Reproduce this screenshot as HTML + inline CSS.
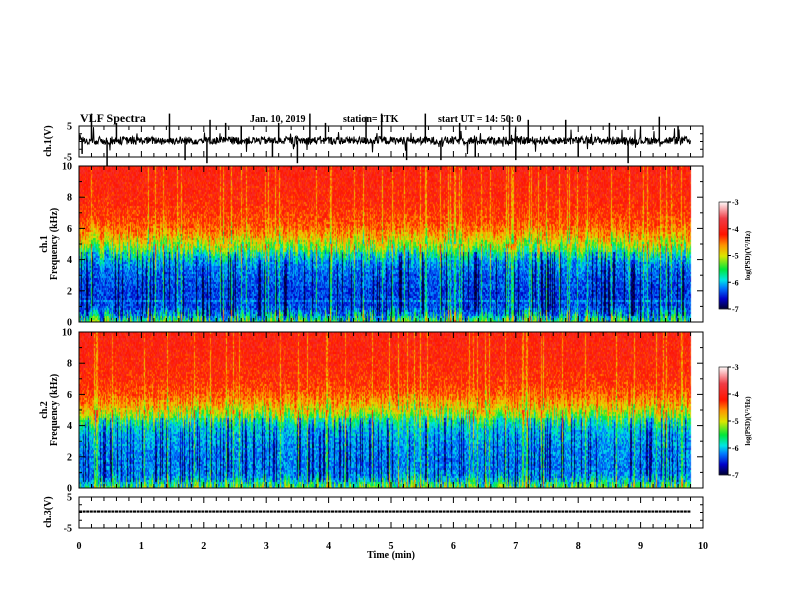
<!DOCTYPE html>
<html><head><meta charset="utf-8">
<style>
body{margin:0;background:#fff;}
#wrap{position:relative;width:792px;height:612px;overflow:hidden;background:#fff;font-family:"Liberation Serif",serif;font-weight:bold;}
canvas,svg{position:absolute;left:0;top:0;}
</style></head>
<body>
<div id="wrap">
<canvas id="spec" width="792" height="612"></canvas>
<svg id="svg" width="792" height="612"></svg>
</div>
<script>
// ---- data ----
const xTicks = [0,1,2,3,4,5,6,7,8,9,10];
const freqTicks = [0,2,4,6,8,10];
const volTicks = [5,-5];
const cbTicks = [-3,-4,-5,-6,-7];
const profFreq = [0,0.3,0.6,1.5,3,4,4.5,5,5.5,6,7,8,10];
const profPSD1 = [-5.4,-5.7,-6.3,-6.4,-6.3,-6.1,-5.6,-5.1,-4.75,-4.45,-4.25,-4.15,-4.05];
const profPSD2 = [-5.3,-5.6,-6.1,-6.2,-6.1,-5.9,-5.45,-4.95,-4.65,-4.4,-4.2,-4.15,-4.05];
const spikeTimes = [0.05,0.2,0.45,0.6,1.45,1.7,2.05,2.1,2.35,2.6,3.1,3.2,3.5,3.7,3.95,4.6,4.85,5.25,5.55,5.8,6.1,6.35,6.9,7.0,7.2,7.8,8.0,8.5,8.8,9.3,9.6];
const spikeAmps  = [-4,9,-8,6,9,-6,-7,7,6,5,-5,6,-7,9,6,8,9,-6,9,-6,6,-5,8,-6,7,7,-5,6,-7,8,5];
const dataEnd = 9.8;

// ---- layout ----
const X0=79,X1=703;
const P1={t:126,b:157}, S1={t:166,b:322}, S2={t:332,b:488}, P3={t:497,b:528};
const xs = t => X0 + (X1-X0)*t/10;
const fy = (p,f) => p.b - (p.b-p.t)*f/10;
const vy = (p,v) => (p.t+p.b)/2 - (p.b-p.t)/2*v/5;

let seed=12345;
function rnd(){seed=(seed*1103515245+12345)%2147483648;return seed/2147483648;}

function cmap(v){
  const stops=[[-7,[0,0,40]],[-6.6,[0,0,200]],[-6.2,[0,120,255]],[-5.9,[0,230,230]],[-5.5,[0,230,60]],[-5.0,[220,230,0]],[-4.6,[255,150,0]],[-4.2,[255,20,0]],[-3.6,[240,60,70]],[-3,[255,245,245]]];
  if(v<=-7) return stops[0][1];
  for(let i=1;i<stops.length;i++){ if(v<=stops[i][0]){const a=stops[i-1],b=stops[i];const k=(v-a[0])/(b[0]-a[0]);return a[1].map((c,j)=>Math.round(c+(b[1][j]-c)*k));}}
  return stops[stops.length-1][1];
}
function prof(arr,f){for(let i=1;i<profFreq.length;i++){if(f<=profFreq[i]){const k=(f-profFreq[i-1])/(profFreq[i]-profFreq[i-1]);return arr[i-1]+(arr[i]-arr[i-1])*k;}}return arr[arr.length-1];}

const ctx=document.getElementById('spec').getContext('2d');
function drawSpec(p,arr){
  const xe=xs(dataEnd);
  for(let x=X0;x<xe;x+=1){
    const r=rnd();
    const bright = r<0.08;        // yellow streak through red
    const dark = !bright && r<0.26; // dark column in lower band
    const shift=(rnd()-0.5)*1.2;
    for(let y=p.t;y<p.b;y+=2){
      const f=(p.b-y)/(p.b-p.t)*10;
      let v=prof(arr,f+shift)+(rnd()-0.5)*0.6;
      if(bright) v += (f>5? -0.5 : 0.7);
      if(dark && f<4.5 && f>0.4) v -= 0.6;
      if(f<1.5&&f>1.3&&p===S1) v+=0.2;
      const c=cmap(v); ctx.fillStyle=`rgb(${c[0]},${c[1]},${c[2]})`; ctx.fillRect(x,y,1,2);
    }
  }
}
drawSpec(S1,profPSD1); drawSpec(S2,profPSD2);
function drawCB(t,b){for(let y=t;y<b;y++){const v=-3-4*(y-t)/(b-t);const c=cmap(v);ctx.fillStyle=`rgb(${c[0]},${c[1]},${c[2]})`;ctx.fillRect(719,y,9,1);}}
drawCB(202,309); drawCB(367,475);

// ---- SVG ----
const svg=document.getElementById('svg'); const NS='http://www.w3.org/2000/svg';
function el(tag,attrs,parent){const e=document.createElementNS(NS,tag);for(const k in attrs)e.setAttribute(k,attrs[k]);(parent||svg).appendChild(e);return e;}
function txt(s,x,y,opts,name){const e=el('text',Object.assign({x:x,y:y,'font-size':10,'font-family':'Liberation Serif, serif','font-weight':'bold',fill:'#000'},opts||{}));e.textContent=s;return e;}

function wave(p,noise,name,spikes){
  let d='';const xe=xs(dataEnd);
  for(let x=X0;x<=xe;x+=0.5){let v=0.3+(rnd()-0.5)*noise; if(rnd()<0.05) v+=(rnd()-0.5)*noise*3;
    d+=(d?'L':'M')+x.toFixed(1)+' '+vy(p,v).toFixed(1);}
  const g=el('path',{d:d,stroke:'#000','stroke-width':1,fill:'none'});
  
  if(spikes){spikeTimes.forEach((t,i)=>{const s=el('line',{x1:xs(t),x2:xs(t),y1:vy(p,0.3),y2:vy(p,spikeAmps[i]),stroke:'#000','stroke-width':1.5});
    });}
}
wave(P1,2.6,'ch1-waveform',true);
{const p=P3;const l=el('path',{d:`M${X0} ${vy(p,0.3)} L${xs(dataEnd)} ${vy(p,0.3)}`,stroke:'#000','stroke-width':2.2,fill:'none','stroke-dasharray':'3 0.6'});
}

function frame(p,name,yt,ymap,minorStep,ymin,ymax){
  const r=el('rect',{x:X0,y:p.t,width:X1-X0,height:p.b-p.t,fill:'none',stroke:'#000','stroke-width':1});
  
  for(let i=0;i<=50;i++){const t=i*0.2;const x=xs(t);const len=(i%5==0)?6:4;
    el('line',{x1:x,x2:x,y1:p.t,y2:p.t+len,stroke:'#000','stroke-width':1});
    el('line',{x1:x,x2:x,y1:p.b,y2:p.b-len,stroke:'#000','stroke-width':1});}
  for(let v=ymin;v<=ymax+1e-6;v+=minorStep){const y=ymap(v);const major=yt.indexOf(Math.round(v))>=0;const len=major?6:3;
    el('line',{x1:X0,x2:X0+len,y1:y,y2:y,stroke:'#000'});el('line',{x1:X1,x2:X1-len,y1:y,y2:y,stroke:'#000'});}
  yt.forEach(v=>txt(String(v),72,ymap(v)+3.5,{'text-anchor':'end'},name+'-ytick-'+v));
}
frame(P1,'ch1-panel',volTicks,v=>vy(P1,v),2.5,-5,5);
frame(S1,'ch1-spectrogram-axes',freqTicks,f=>fy(S1,f),1,0,10);
frame(S2,'ch2-spectrogram-axes',freqTicks,f=>fy(S2,f),1,0,10);
frame(P3,'ch3-panel',volTicks,v=>vy(P3,v),2.5,-5,5);
xTicks.forEach(t=>txt(String(t),xs(t),549,{'text-anchor':'middle'},'x-tick-'+t));
txt('Time  (min)',xs(5),558,{'text-anchor':'middle'},'x-axis-title');

txt('VLF  Spectra',80,122,{'font-size':12},'plot-title');
txt('Jan.  10,  2019',250,122,{},'date-label');
txt('station=  ITK',343,122,{},'station-label');
txt('start  UT  =  14: 50: 0',438,122,{},'start-time-label');

function rot(lines,x,cy,name){lines.forEach((s,i)=>txt(s,x+i*10,cy,{'text-anchor':'middle',transform:`rotate(-90 ${x+i*10} ${cy})`},name+'-'+i));}
rot(['ch.1(V)'],51,141,'ch1-ylabel');
rot(['ch.1','Frequency  (kHz)'],47,244,'spec1-ylabel');
rot(['ch.2','Frequency  (kHz)'],47,410,'spec2-ylabel');
rot(['ch.3(V)'],51,512,'ch3-ylabel');

function cbAxis(t,b,name){
  const r=el('rect',{x:719,y:t,width:9,height:b-t,fill:'none',stroke:'#000','stroke-width':0.6});
  
  el('line',{x1:728,x2:728,y1:t,y2:b,stroke:'#000'});
  cbTicks.forEach(v=>{const y=t+(b-t)*(-3-v)/4;el('line',{x1:728,x2:731,y1:y,y2:y,stroke:'#000'});
    txt(String(v),732,y+3,{'font-size':8},name+'-tick-'+v);});
  const cy=(t+b)/2;txt('log(PSD)(V\u00B2/Hz)',750,cy,{'font-size':7,'text-anchor':'middle',transform:`rotate(-90 750 ${cy})`},name+'-label');
}
cbAxis(202,309,'colorbar-ch1');
cbAxis(367,475,'colorbar-ch2');
</script>
</body></html>
